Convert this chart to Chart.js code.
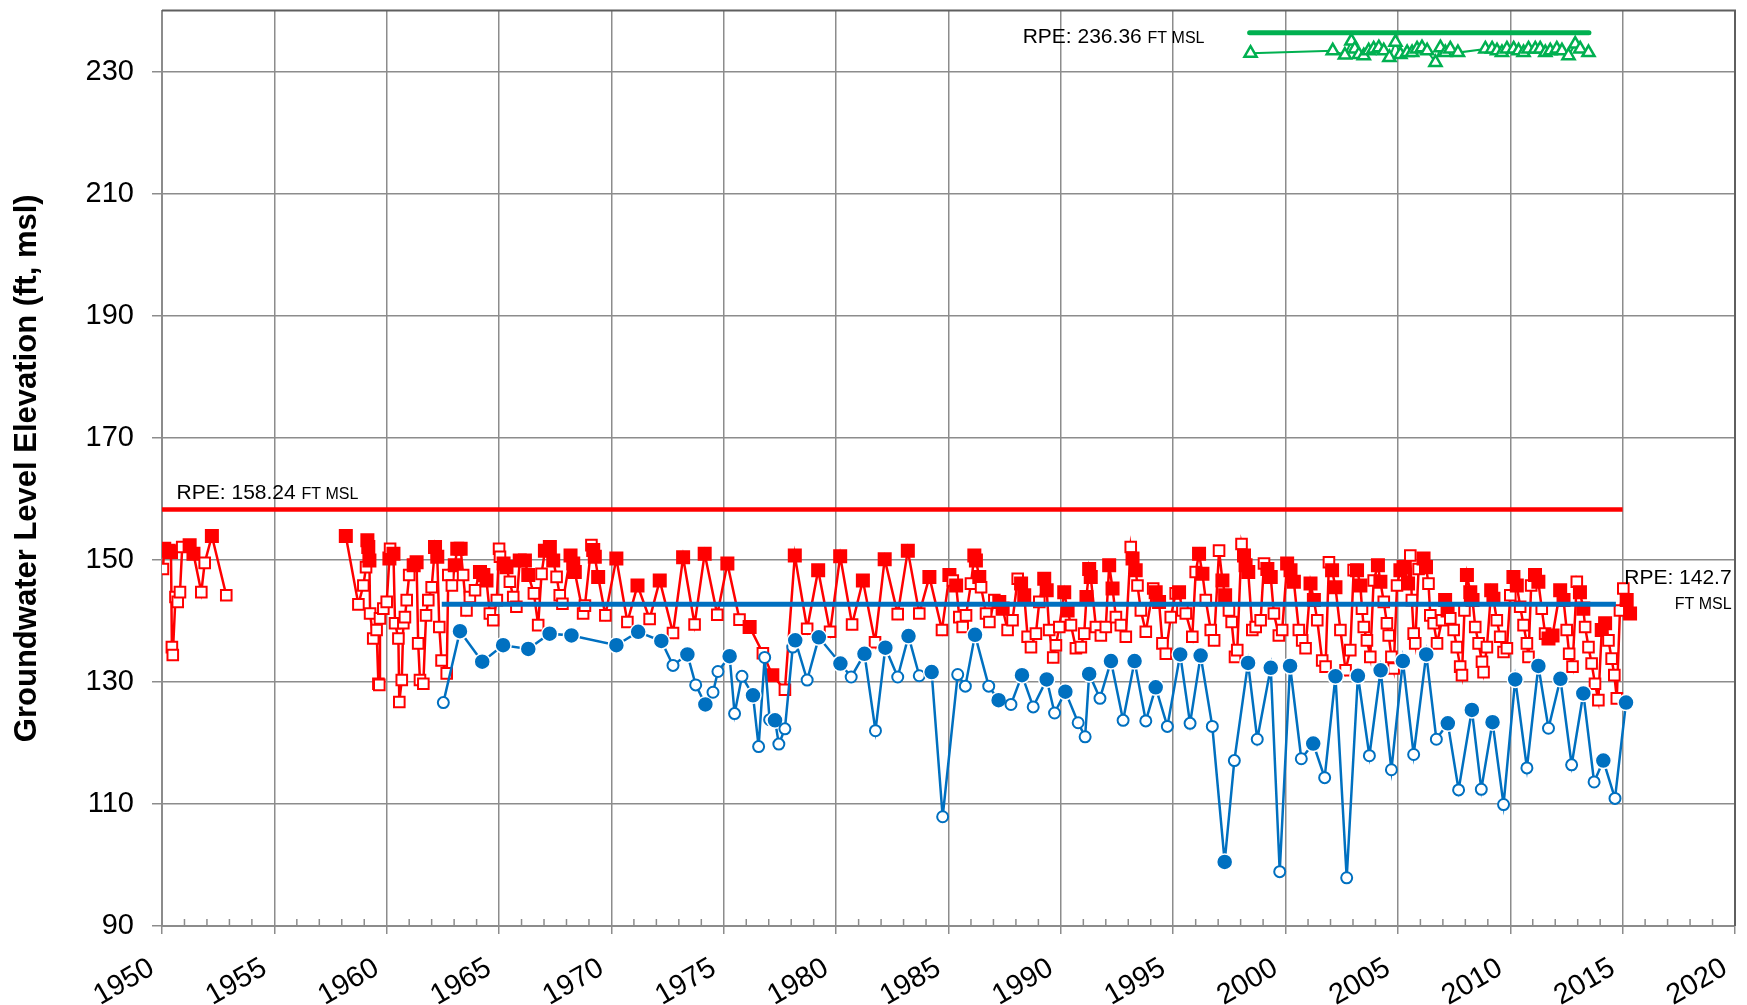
<!DOCTYPE html>
<html>
<head>
<meta charset="utf-8">
<title>Groundwater Level Elevation</title>
<script src="https://cdn.jsdelivr.net/npm/chart.js@4.4.1/dist/chart.umd.min.js"></script>
<style>
  html, body { margin: 0; padding: 0; background: #fff; }
  #wrap { width: 1747px; height: 1005px; }
</style>
</head>
<body>
<div id="wrap"><canvas id="chart-wl"></canvas></div>
<script>
// tick positions
const yearTicks = [1950, 1955, 1960, 1965, 1970, 1975, 1980, 1985, 1990, 1995, 2000, 2005, 2010, 2015, 2020];
const levelTicks = [90, 110, 130, 150, 170, 190, 210, 230];

// reference point elevations (ft msl) and the span each is drawn over
const rpeRed = 158.24;   const rpeRedSpan = [1950, 2015];
const rpeBlue = 142.7;   const rpeBlueSpan = [1962.45, 2014.7];
const rpeGreen = 236.36; const rpeGreenSpan = [1998.4, 2013.5];

// red well: year, level, 1 = filled marker / 0 = open marker (null = gap)
const redYears = [
  1950.04, 1950.10, 1950.30, 1950.40, 1950.44, 1950.48, 1950.60, 1950.70, 1950.80, 1950.90,
  1951.23, 1951.40, 1951.75, 1951.90, 1952.22, 1952.86, 1955.00,
  1958.18, 1958.74, 1958.96, 1959.08, 1959.14, 1959.18, 1959.23, 1959.26, 1959.40, 1959.55,
  1959.63, 1959.67, 1959.70, 1959.85, 1960.00, 1960.12, 1960.15, 1960.30, 1960.37, 1960.52,
  1960.56, 1960.67, 1960.74, 1960.81, 1960.89, 1961.00, 1961.20, 1961.33, 1961.40, 1961.48,
  1961.63, 1961.75, 1961.85, 1962.00, 1962.15, 1962.25, 1962.34, 1962.44, 1962.67, 1962.74,
  1962.90, 1963.03, 1963.14, 1963.29, 1963.40, 1963.55, 1963.70, 1963.93, 1964.15, 1964.30,
  1964.44, 1964.59, 1964.74, 1964.90, 1965.00, 1965.04, 1965.20, 1965.33, 1965.48, 1965.63,
  1965.77, 1965.92, 1966.15, 1966.30, 1966.55, 1966.74, 1966.89, 1967.04,
  1967.26, 1967.41, 1967.56, 1967.70, 1967.82, 1968.18, 1968.30, 1968.37, 1968.74, 1968.82,
  1969.11, 1969.19, 1969.26, 1969.41, 1969.73, 1970.22, 1970.71, 1971.16, 1971.70, 1972.15,
  1972.74, 1973.19, 1973.70, 1974.15, 1974.71, 1975.16, 1975.70, 1976.15, 1976.74, 1977.16,
  1977.72, 1978.16, 1978.71, 1979.20, 1979.73, 1980.18, 1980.71, 1981.19, 1981.73, 1982.16,
  1982.74, 1983.19, 1983.70, 1984.15, 1984.71, 1985.04,
  1985.19, 1985.34, 1985.48, 1985.63, 1985.78, 1986.00, 1986.15, 1986.22, 1986.37, 1986.45,
  1986.67, 1986.82, 1987.04, 1987.26, 1987.41, 1987.63, 1987.85, 1988.08, 1988.23, 1988.37,
  1988.52, 1988.67, 1988.89, 1989.04, 1989.26, 1989.37, 1989.48, 1989.66, 1989.78, 1989.93,
  1990.15, 1990.30, 1990.45, 1990.67, 1990.89, 1991.04, 1991.14, 1991.26, 1991.33, 1991.56,
  1991.78, 1992.00, 1992.15, 1992.30, 1992.45, 1992.67, 1992.89, 1993.11, 1993.19, 1993.33,
  1993.41, 1993.56, 1993.78, 1994.11, 1994.22, 1994.37, 1994.52, 1994.67, 1994.89, 1995.11,
  1995.26, 1995.41, 1995.56, 1995.85, 1996.00, 1996.15, 1996.30, 1996.45, 1996.67, 1996.82,
  1997.04, 1997.19, 1997.31, 1997.48, 1997.60, 1997.75, 1997.85, 1998.04, 1998.15, 1998.22,
  1998.34, 1998.52, 1998.67, 1998.89, 1999.04, 1999.19, 1999.34, 1999.48, 1999.70, 1999.85,
  2000.07, 2000.22, 2000.37, 2000.59, 2000.74, 2000.89, 2001.11, 2001.26, 2001.41, 2001.63,
  2001.78, 2001.93, 2002.07, 2002.22, 2002.44, 2002.67,
  2002.88, 2003.03, 2003.18, 2003.33, 2003.40, 2003.48, 2003.62, 2003.77, 2003.92, 2004.11,
  2004.22, 2004.37, 2004.51, 2004.59, 2004.71, 2004.81, 2004.96, 2005.11, 2005.25, 2005.45,
  2005.55, 2005.62, 2005.70, 2005.77, 2005.92, 2006.14, 2006.25, 2006.36, 2006.44, 2006.59,
  2006.74, 2006.96, 2007.10, 2007.21, 2007.33, 2007.48, 2007.62, 2007.77, 2007.85, 2007.96,
  2008.07, 2008.22, 2008.32, 2008.44, 2008.59, 2008.74, 2008.81, 2008.96, 2009.15, 2009.25,
  2009.40, 2009.55, 2009.70, 2009.85, 2010.00, 2010.14, 2010.29, 2010.44, 2010.59, 2010.74,
  2010.81, 2010.93, 2011.10, 2011.25, 2011.40, 2011.55, 2011.70, 2011.88, 2012.22, 2012.37,
  2012.51, 2012.62, 2012.77, 2012.96, 2013.10, 2013.25, 2013.33, 2013.48, 2013.62, 2013.77,
  2013.92, 2014.07, 2014.22, 2014.37, 2014.51, 2014.63, 2014.74, 2014.88, 2015.03, 2015.18,
  2015.33
];
const redLevels = [
  148.5, 151.8, 151.5, 151.3, 135.7, 134.4, 143.9, 143.1, 144.7, 152.1,
  152.4, 151.0, 144.7, 149.5, 153.9, 144.2, null,
  153.9, 142.7, 145.8, 148.8, 153.2, 152.1, 149.9, 141.2, 137.1, 138.5,
  129.7, 129.5, 140.4, 142.0, 143.1, 150.2, 151.8, 151.0, 139.6, 137.1,
  126.7, 130.3, 139.6, 140.6, 143.4, 147.5, 149.1, 149.6, 136.3, 130.3,
  129.7, 140.9, 143.4, 145.5, 152.1, 150.5, 139.0, 133.5, 131.4, 147.5,
  145.8, 149.1, 151.8, 151.8, 147.5, 141.7, 143.9, 145.0, 148.0, 147.5,
  146.6, 141.2, 140.1, 143.4, 151.8, 150.5, 149.4, 148.8, 146.4, 143.9,
  142.3, 149.9, 149.9, 147.5, 144.5, 139.3, 147.7, 151.5,
  152.1, 149.9, 147.2, 144.2, 142.8, 150.7, 149.4, 148.0, 141.2, 142.5,
  152.4, 151.6, 150.5, 147.2, 140.9, 150.2, 139.8, 145.8, 140.3, 146.6,
  138.0, 150.4, 139.4, 151.0, 141.0, 149.4, 140.2, 139.0, 134.7, 131.1,
  128.7, 150.7, 138.7, 148.3, 138.2, 150.6, 139.4, 146.6, 136.5, 150.1,
  141.1, 151.5, 141.2, 147.2, 138.5, 147.5,
  146.6, 145.8, 140.6, 139.0, 140.9, 146.1, 150.7, 149.9, 147.2, 145.5,
  141.2, 139.8, 143.4, 143.1, 142.0, 138.5, 140.1, 146.9, 146.1, 144.2,
  137.4, 135.7, 137.9, 143.1, 146.9, 145.0, 138.5, 134.0, 136.0, 139.0,
  144.7, 141.7, 139.3, 135.5, 135.7, 137.9, 143.9, 148.5, 147.2, 139.0,
  137.6, 139.0, 149.1, 145.3, 140.6, 139.3, 137.4, 152.1, 150.2, 148.3,
  145.8, 141.7, 138.2, 145.3, 144.7, 143.1, 136.3, 134.6, 140.6, 144.5,
  144.7, 141.7, 141.2, 137.4, 148.0, 151.0, 147.7, 143.4, 138.5, 136.8,
  151.5, 146.6, 144.2, 141.7, 139.8, 134.1, 135.2, 152.6, 150.7, 149.1,
  148.0, 138.5, 139.0, 140.1, 149.4, 148.5, 147.2, 141.2, 137.6, 138.5,
  149.4, 148.3, 146.4, 138.5, 136.8, 135.5, 146.1, 143.4, 140.1, 133.5,
  132.5, 149.6, 148.3, 145.5, 138.5, 131.9,
  135.2, 148.3, 148.3, 145.8, 142.0, 139.0, 136.8, 134.1, 146.6, 149.1,
  146.4, 143.1, 139.6, 137.6, 134.1, 132.2, 145.8, 148.3, 148.8, 146.1,
  150.7, 143.4, 137.9, 136.3, 148.5, 150.2, 148.8, 146.1, 140.9, 139.6,
  136.3, 140.1, 143.4, 141.7, 140.4, 138.5, 135.7, 132.5, 131.1, 141.7,
  147.5, 144.7, 143.4, 139.0, 136.3, 133.3, 131.6, 135.7, 145.0, 143.6,
  140.1, 137.4, 134.9, 135.5, 144.2, 147.2, 145.8, 142.3, 139.3, 136.3,
  134.1, 145.8, 147.5, 146.4, 142.0, 137.9, 137.1, 137.6, 145.0, 143.4,
  138.5, 134.6, 132.5, 146.4, 144.7, 142.0, 139.0, 135.7, 133.0, 129.7,
  127.0, 138.5, 139.6, 136.8, 133.8, 131.1, 127.3, 141.7, 145.3, 143.4,
  141.2
];
const redFilled = [
  0, 1, 1, 1, 0, 0, 0, 0, 0, 0,
  1, 1, 0, 0, 1, 0, 0,
  1, 0, 0, 0, 1, 1, 1, 0, 0, 0,
  0, 0, 0, 0, 0, 1, 0, 1, 0, 0,
  0, 0, 0, 0, 0, 0, 1, 1, 0, 0,
  0, 0, 0, 0, 1, 1, 0, 0, 0, 0,
  0, 1, 1, 1, 0, 0, 0, 0, 1, 1,
  1, 0, 0, 0, 0, 0, 1, 1, 0, 0,
  0, 1, 1, 1, 0, 0, 0, 1,
  1, 1, 0, 0, 0, 1, 1, 1, 0, 0,
  0, 1, 1, 1, 0, 1, 0, 1, 0, 1,
  0, 1, 0, 1, 0, 1, 0, 1, 0, 1,
  0, 1, 0, 1, 0, 1, 0, 1, 0, 1,
  0, 1, 0, 1, 0, 1,
  0, 1, 0, 0, 0, 0, 1, 1, 1, 0,
  0, 0, 0, 1, 1, 0, 0, 0, 1, 1,
  0, 0, 0, 0, 1, 1, 0, 0, 0, 0,
  1, 1, 0, 0, 0, 0, 1, 1, 1, 0,
  0, 0, 1, 1, 0, 0, 0, 0, 1, 1,
  0, 0, 0, 0, 1, 1, 0, 0, 0, 0,
  1, 0, 0, 0, 0, 1, 1, 0, 0, 0,
  0, 1, 1, 0, 0, 0, 0, 0, 1, 1,
  1, 0, 0, 0, 0, 1, 1, 0, 0, 0,
  1, 1, 1, 0, 0, 0, 1, 1, 0, 0,
  0, 0, 1, 1, 0, 0,
  0, 0, 1, 1, 0, 0, 0, 0, 0, 1,
  1, 0, 0, 0, 0, 0, 0, 1, 1, 1,
  0, 0, 0, 0, 0, 1, 1, 0, 0, 0,
  0, 0, 1, 1, 0, 0, 0, 0, 0, 0,
  1, 1, 1, 0, 0, 0, 0, 0, 1, 1,
  0, 0, 0, 0, 0, 1, 1, 0, 0, 0,
  0, 0, 1, 1, 0, 0, 1, 1, 1, 1,
  0, 0, 0, 0, 1, 1, 0, 0, 0, 0,
  0, 1, 1, 0, 0, 0, 0, 0, 0, 1,
  1
];

// blue well
const blueYears = [
  1962.52, 1963.26, 1964.25, 1965.18, 1966.30, 1967.25, 1968.22, 1970.22, 1971.19, 1972.22,
  1972.74, 1973.38, 1973.75, 1974.18, 1974.52, 1974.74, 1975.26, 1975.48, 1975.81, 1976.30,
  1976.55, 1976.82, 1977.04, 1977.28, 1977.45, 1977.72, 1978.07, 1978.18, 1978.71, 1979.23,
  1980.19, 1980.67, 1981.26, 1981.75, 1982.19, 1982.74, 1983.22, 1983.70, 1984.25, 1984.74,
  1985.41, 1985.75, 1986.18, 1986.79, 1987.23, 1987.78, 1988.27, 1988.77, 1989.37, 1989.72,
  1990.20, 1990.77, 1991.08, 1991.26, 1991.74, 1992.23, 1992.77, 1993.28, 1993.78, 1994.22,
  1994.74, 1995.31, 1995.75, 1996.22, 1996.74, 1997.29, 1997.72, 1998.33, 1998.74, 1999.34,
  1999.74, 2000.20, 2000.70, 2001.23, 2001.74, 2002.22, 2002.72, 2003.22, 2003.73, 2004.23,
  2004.71, 2005.22, 2005.70, 2006.26, 2006.71, 2007.22, 2007.70, 2008.29, 2008.71, 2009.21,
  2009.70, 2010.22, 2010.74, 2011.25, 2011.70, 2012.23, 2012.73, 2013.25, 2013.73, 2014.14,
  2014.66, 2015.15
];
const blueLevels = [
  126.6, 138.3, 133.3, 136.0, 135.4, 137.9, 137.6, 136.0, 138.2, 136.7,
  132.7, 134.5, 129.5, 126.3, 128.3, 131.7, 134.2, 124.8, 130.9, 127.8,
  119.4, 134.0, 123.8, 123.7, 119.8, 122.3, 135.7, 136.8, 130.3, 137.3,
  133.0, 130.8, 134.6, 122.0, 135.6, 130.8, 137.5, 131.0, 131.6, 107.9,
  131.2, 129.3, 137.7, 129.3, 127.0, 126.3, 131.1, 125.9, 130.4, 124.9,
  128.4, 123.3, 121.0, 131.3, 127.3, 133.4, 123.7, 133.4, 123.6, 129.1,
  122.7, 134.5, 123.2, 134.3, 122.7, 100.5, 117.1, 133.1, 120.6, 132.3,
  98.9, 132.6, 117.4, 119.9, 114.3, 130.9, 97.9, 131.0, 117.9, 131.9,
  115.6, 133.4, 118.1, 134.5, 120.6, 123.2, 112.3, 125.4, 112.4, 123.4,
  109.9, 130.4, 115.9, 132.6, 122.4, 130.5, 116.4, 128.1, 113.6, 117.1,
  110.9, 126.6
];
const blueFilled = [
  0, 1, 1, 1, 1, 1, 1, 1, 1, 1,
  0, 1, 0, 1, 0, 0, 1, 0, 0, 1,
  0, 0, 0, 1, 0, 0, 0, 1, 0, 1,
  1, 0, 1, 0, 1, 0, 1, 0, 1, 0,
  0, 0, 1, 0, 1, 0, 1, 0, 1, 0,
  1, 0, 0, 1, 0, 1, 0, 1, 0, 1,
  0, 1, 0, 1, 0, 1, 0, 1, 0, 1,
  0, 1, 0, 1, 0, 1, 0, 1, 0, 1,
  0, 1, 0, 1, 0, 1, 0, 1, 0, 1,
  0, 1, 0, 1, 0, 1, 0, 1, 0, 1,
  0, 1
];

// green well (open triangles)
const greenYears = [
  1998.44, 2002.10, 2002.64, 2002.93, 2003.08, 2003.26, 2003.48, 2003.70, 2003.92, 2004.15,
  2004.37, 2004.62, 2004.89, 2005.11, 2005.41, 2005.63, 2005.85, 2006.07, 2006.30, 2006.67,
  2006.89, 2007.11, 2007.33, 2007.67, 2008.89, 2009.19, 2009.41, 2009.63, 2009.85, 2010.15,
  2010.37, 2010.59, 2010.81, 2011.11, 2011.33, 2011.56, 2011.78, 2012.07, 2012.30, 2012.59,
  2012.89, 2013.11, 2013.48
];
const greenLevels = [
  233.0, 233.4, 232.7, 235.0, 233.7, 232.8, 232.6, 233.4, 233.7, 233.9,
  233.4, 232.3, 234.8, 232.8, 233.1, 233.1, 233.7, 233.9, 233.4, 231.5,
  233.9, 233.1, 233.7, 233.1, 233.7, 233.7, 233.4, 233.1, 233.7, 233.7,
  233.4, 233.1, 233.7, 233.7, 233.7, 233.1, 233.4, 233.7, 233.4, 232.6,
  234.5, 233.7, 233.1
];

const RED = '#ff0000';
const BLUE = '#0070c0';
const GREEN = '#00b050';
const GRID = '#8c8c8c';
const FONT = '"Liberation Sans", Arial, sans-serif';

const toPoints = (xs, ys, fs) => xs.map((x, i) => ({ x: x, y: ys[i], filled: fs ? fs[i] === 1 : false }));
const flatLine = (span, level) => span.map(x => ({ x: x, y: level }));

// minor year ticks, plot frame and the RPE notes
const decorPlugin = {
  id: 'decor',
  beforeDatasetsDraw(chart) {
    const { ctx, chartArea, scales } = chart;
    ctx.save();
    ctx.strokeStyle = GRID;
    ctx.lineWidth = 1.5;
    for (let yr = 1951; yr < 2020; yr++) {
      if (yr % 5 === 0) continue;
      const px = scales.x.getPixelForValue(yr);
      ctx.beginPath();
      ctx.moveTo(px, chartArea.bottom);
      ctx.lineTo(px, chartArea.bottom - 7);
      ctx.stroke();
    }
    ctx.strokeStyle = '#5f5f5f';
    ctx.lineWidth = 2;
    ctx.beginPath();
    ctx.moveTo(chartArea.left, chartArea.top);
    ctx.lineTo(chartArea.right, chartArea.top);
    ctx.lineTo(chartArea.right, chartArea.bottom);
    ctx.stroke();
    ctx.restore();
  },
  afterDraw(chart) {
    const { ctx, scales } = chart;
    const X = v => scales.x.getPixelForValue(v);
    const Y = v => scales.y.getPixelForValue(v);
    ctx.save();
    ctx.fillStyle = '#000';
    ctx.textBaseline = 'alphabetic';
    const note = (x, y, big, small) => {
      ctx.textAlign = 'left';
      ctx.font = '21px ' + FONT;
      ctx.fillText(big, x, y);
      const w = ctx.measureText(big + ' ').width;
      ctx.font = '16px ' + FONT;
      ctx.fillText(small, x + w, y);
    };
    note(X(1950.65), Y(160.0), 'RPE: 158.24', 'FT MSL');
    note(X(1988.3), Y(234.6), 'RPE: 236.36', 'FT MSL');
    ctx.textAlign = 'left';
    ctx.font = '21px ' + FONT;
    ctx.fillText('RPE: 142.7', X(2015.07), Y(146.0));
    ctx.textAlign = 'right';
    ctx.font = '16px ' + FONT;
    ctx.fillText('FT MSL', X(2019.85), Y(142.0));
    ctx.restore();
  }
};

new Chart(document.getElementById('chart-wl').getContext('2d'), {
  type: 'line',
  data: {
    datasets: [
      {
        label: 'RPE blue', data: flatLine(rpeBlueSpan, rpeBlue), order: 0,
        borderColor: BLUE, borderWidth: 5, pointRadius: 0
      },
      {
        label: 'Blue well', data: toPoints(blueYears, blueLevels, blueFilled), order: 1,
        borderColor: BLUE, borderWidth: 2.5,
        pointStyle: 'circle',
        pointRadius: c => c.raw && c.raw.filled ? 8 : 5.5,
        pointBackgroundColor: c => c.raw && c.raw.filled ? BLUE : '#fff',
        pointBorderColor: c => c.raw && c.raw.filled ? '#fff' : BLUE,
        pointBorderWidth: c => c.raw && c.raw.filled ? 1.5 : 2
      },
      {
        label: 'RPE red', data: flatLine(rpeRedSpan, rpeRed), order: 2,
        borderColor: RED, borderWidth: 4.5, pointRadius: 0
      },
      {
        label: 'Red well', data: toPoints(redYears, redLevels, redFilled), order: 3,
        borderColor: RED, borderWidth: 2.5, spanGaps: false,
        pointStyle: 'rect',
        pointRadius: c => c.raw && c.raw.filled ? 8.5 : 7.5,
        pointBackgroundColor: c => c.raw && c.raw.filled ? RED : '#fff',
        pointBorderColor: RED,
        pointBorderWidth: 2
      },
      {
        label: 'RPE green', data: flatLine(rpeGreenSpan, rpeGreen), order: 4,
        borderColor: GREEN, borderWidth: 5, borderCapStyle: 'round', pointRadius: 0
      },
      {
        label: 'Green well', data: toPoints(greenYears, greenLevels), order: 5,
        borderColor: GREEN, borderWidth: 2,
        pointStyle: 'triangle', pointRadius: 7,
        pointBackgroundColor: '#fff', pointBorderColor: GREEN, pointBorderWidth: 2.5
      }
    ]
  },
  options: {
    responsive: true,
    maintainAspectRatio: false,
    animation: false,
    devicePixelRatio: 1,
    events: [],
    layout: { padding: { left: 0, right: 12, top: 9, bottom: 0 } },
    plugins: { legend: { display: false }, tooltip: { enabled: false } },
    elements: { line: { tension: 0 } },
    scales: {
      x: {
        type: 'linear', min: 1950, max: 2020,
        afterBuildTicks: s => { s.ticks = yearTicks.map(v => ({ value: v })); },
        afterFit: s => { s.height = 79; s.paddingLeft = 0; s.paddingRight = 0; },
        ticks: {
          autoSkip: false, maxRotation: 30, minRotation: 30,
          padding: 17, labelOffset: -10,
          color: '#000', font: { family: FONT, size: 29 },
          callback: v => String(v)
        },
        grid: { color: GRID, lineWidth: 1.5, tickLength: 8 },
        border: { color: GRID, width: 2 }
      },
      y: {
        min: 90, max: 240,
        afterBuildTicks: s => { s.ticks = levelTicks.map(v => ({ value: v })); },
        afterFit: s => { s.width = 162; s.paddingTop = 0; s.paddingBottom = 0; },
        ticks: {
          padding: 18, color: '#000', font: { family: FONT, size: 29 },
          callback: v => String(v)
        },
        grid: { color: GRID, lineWidth: 1.5, tickLength: 10 },
        border: { color: GRID, width: 2 },
        title: {
          display: true, text: 'Groundwater Level Elevation (ft, msl)',
          color: '#000', font: { family: FONT, size: 31, weight: 'bold' },
          padding: { top: 9, bottom: 0 }
        }
      }
    }
  },
  plugins: [decorPlugin]
});
</script>
</body>
</html>
